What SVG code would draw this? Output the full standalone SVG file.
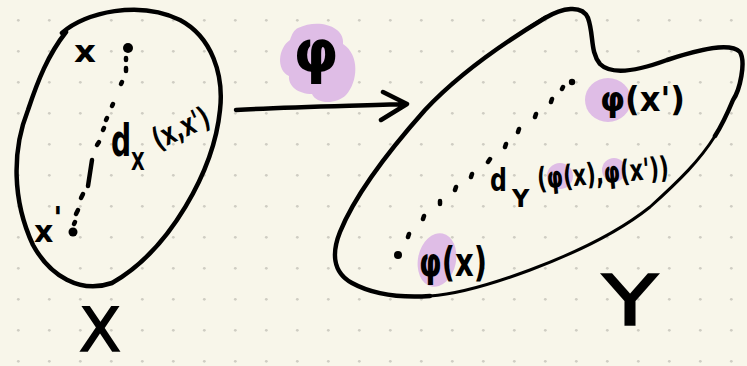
<svg xmlns="http://www.w3.org/2000/svg" width="747" height="366" viewBox="0 0 747 366">
  <defs>
    <pattern id="grid" x="0" y="0" width="31" height="31" patternUnits="userSpaceOnUse">
      <circle cx="18.3" cy="20.3" r="1.4" fill="#cfcdc3"/>
    </pattern>
    <style>
      .ink { fill: none; stroke: #000; stroke-linecap: round; stroke-linejoin: round; }
      .dash { fill: none; stroke: #000; stroke-linecap: round; stroke-width: 4.5; }
      .hl { fill: #dfbde6; }
      .t { font-family: "DejaVu Sans", "Liberation Sans", sans-serif; font-weight: bold; fill: #000; }
      .big { font-family: "DejaVu Sans", "Liberation Sans", sans-serif; font-weight: normal; fill: #000; stroke: #000; stroke-width: 1.5; }
    </style>
  </defs>
  <rect width="747" height="366" fill="#f8f6ea"/>
  <rect width="747" height="366" fill="url(#grid)"/>

  <g id="set-X">
    <path class="ink" stroke-width="4.5" d="M 62,33 C 85,12 140,0 180,20 C 212,37 224,75 220,110 C 214,170 170,250 112,283 C 80,294 50,276 33,245 C 12,200 12,150 28,110 C 38,80 48,55 66,32"/>
    <text class="t" x="74" y="62" font-size="30" textLength="22" lengthAdjust="spacingAndGlyphs">x</text>
    <text class="t" x="34" y="242" font-size="30">x<tspan dx="0" dy="-14">'</tspan></text>
    <circle cx="128" cy="48" r="5" fill="#000"/>
    <circle cx="73" cy="232" r="4.5" fill="#000"/>
    <path class="dash" d="M126,58 L126,60 M126,68 L126,71 M122,82 L121,84 M113,104 L112,106 M107,118 L106,120 M104,128 L103,130 M99,142 L97,145 M92,160 L88,186 M83,194 L81,198 M78,210 L76,214 M75,222 L74,224"/>
    <text class="t" font-size="44" transform="translate(111 156) scale(0.64 1)">d</text>
    <text class="t" font-size="24" transform="translate(131 170) scale(0.74 1)">X</text>
    <text class="t" x="158" y="150" font-size="30" textLength="60" lengthAdjust="spacingAndGlyphs" transform="rotate(-25 158 150)">(x,x')</text>
    <text class="big" x="79" y="351" font-size="60" textLength="42" lengthAdjust="spacingAndGlyphs">X</text>
  </g>

  <g id="set-Y">
    <path class="ink" stroke-width="4.5" d="M 430,296 C 400,298 372,294 352,283 C 332,272 332,252 340,232 C 355,195 385,155 425,110 C 455,78 500,45 545,18 C 562,8 582,4 588,18 C 594,35 590,52 600,64 C 612,76 640,70 667,60 C 700,49 730,42 740,52 C 746,62 740,90 733,100 C 728,112 722,125 715,136"/>
    <path class="ink" stroke-width="3" d="M 715,136 C 700,160 680,180 650,207 C 615,235 570,255 530,270 C 495,283 460,294 430,296"/>
    <path class="ink" stroke-width="3.5" d="M 530,27 L 546,17"/>
    <ellipse class="hl" cx="608" cy="100" rx="23" ry="22"/>
    <ellipse class="hl" cx="560" cy="176" rx="13" ry="13"/>
    <ellipse class="hl" cx="614" cy="170" rx="12" ry="12"/>
    <ellipse class="hl" cx="437" cy="260" rx="19" ry="27" transform="rotate(12 437 260)"/>
    <circle cx="398" cy="255" r="4" fill="#000"/>
    <circle cx="572" cy="82" r="3.2" fill="#000"/>
    <path class="dash" stroke-width="3.2" d="M408,237 L409,234 M423,219 L424,216 M440,204 L440,201 M455,190 L456,187 M471,177 L472,174 M488,162 L490,159 M505,147 L506,144 M518,132 L519,129 M535,117 L536,114 M551,102 L552,99 M562,89 L563,87"/>
    <text class="t" x="600" y="111" font-size="34" textLength="85" lengthAdjust="spacingAndGlyphs">φ(x')</text>
    <text class="t" font-size="32" transform="translate(490 191) scale(0.74 1)">d</text>
    <text class="t" font-size="24" transform="translate(512 207) scale(1 1)">Y</text>
    <text class="t" x="538" y="189" font-size="30" textLength="132" lengthAdjust="spacingAndGlyphs" transform="rotate(-5 538 189)">(φ(x),φ(x'))</text>
    <text class="t" x="419" y="276" font-size="40" textLength="68" lengthAdjust="spacingAndGlyphs">φ(x)</text>
    <text class="big" x="602" y="325" font-size="70" textLength="56" lengthAdjust="spacingAndGlyphs">Y</text>
  </g>

  <g id="connectors">
    <path class="hl" d="M 298,28 C 318,18 345,26 343,44 C 360,55 358,82 346,95 C 336,105 316,104 312,94 C 298,94 288,86 289,76 C 276,70 278,48 290,40 C 292,34 294,30 298,28 Z"/>
    <text class="t" x="316" y="72" font-size="58" text-anchor="middle">φ</text>
    <path class="ink" stroke-width="4.5" d="M 236,110 C 290,107 350,106 407,104 M 383,92 L 407,104 L 381,120"/>
  </g>
</svg>
